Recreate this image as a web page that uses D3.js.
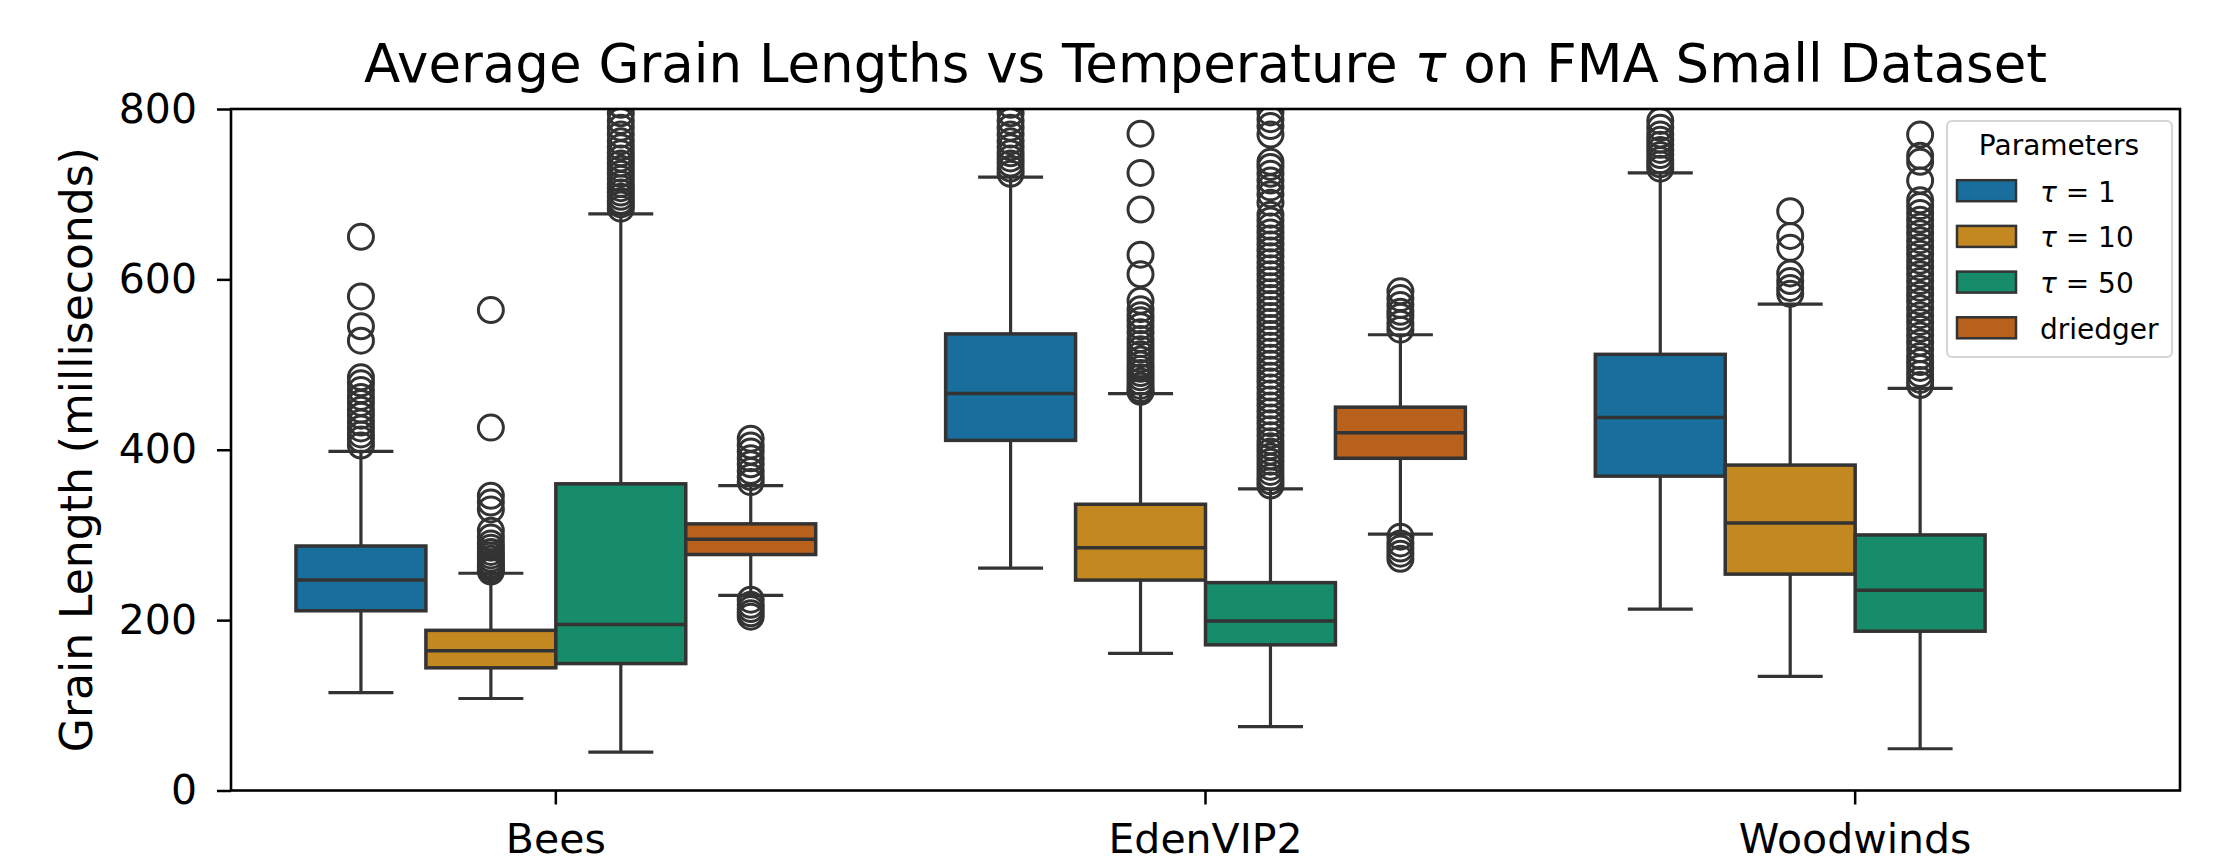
<!DOCTYPE html>
<html>
<head>
<meta charset="utf-8">
<script src="https://cdn.jsdelivr.net/npm/d3@7"></script>
<style>
  body { margin: 0; background: #fff; }
  text { font-family: "DejaVu Sans", sans-serif; }
</style>
</head>
<body>
<svg id="chart" width="2213" height="858"></svg>
<script>
// categories and hue levels
const categories = ["Bees", "EdenVIP2", "Woodwinds"];
const params = ["tau1", "tau10", "tau50", "driedger"];
const paramLabels = ["1", "10", "50", "driedger"];
const colors = ["#186e9d", "#c3881f", "#168c6a", "#b8611c"];
const yTicks = [0, 200, 400, 600, 800];

// box statistics, one row per parameter, one column per category (null = no data)
const lowWhisker  = [[115, 261, 213], [108, 161, 134], [45, 75, 49],   [229, 301, null]];
const q1Values    = [[211, 411, 369], [144, 247, 254], [149, 171, 187], [277, 390, null]];
const medianValues= [[247, 466, 438], [164, 285, 314], [195, 199, 235], [295, 420, null]];
const q3Values    = [[287, 536, 512], [188, 336, 382], [360, 244, 300], [313, 450, null]];
const highWhisker = [[398, 720, 725], [255, 466, 571], [677, 354, 472], [358, 535, null]];

// outliers
const outBeesTau1 = [650, 580, 545, 528, 485, 478, 470, 462, 455, 447, 440, 432, 425, 418, 412, 405];
const outBeesTau10 = [564, 426, 346, 338, 330, 305, 297, 290, 285, 280, 276, 272, 268, 265, 262, 259, 257];
const outBeesTau50 = [683, 688, 692, 697, 702, 707, 712, 718, 724, 730, 736, 742, 748, 755, 762, 770, 778, 786, 795, 805, 820];
const outBeesDriedger = [413, 405, 398, 390, 383, 375, 368, 362, 224, 218, 213, 208, 204];
const outEdenTau1 = [724, 730, 736, 742, 748, 755, 762, 770, 778, 786, 795, 805];
const outEdenTau10 = [771, 725, 682, 629, 606, 575, 565, 558, 552, 545, 538, 530, 524, 518, 512, 506, 500, 495, 490, 485, 480, 475, 471, 468];
const outEdenTau50 = [358, 363, 368, 374, 380, 386, 392, 398, 404, 410, 417, 424, 431, 438, 445, 452, 459, 466,
  473, 480, 487, 494, 501, 508, 515, 522, 529, 536, 543, 550, 557, 564, 571, 578, 585, 592, 599, 606, 613, 620,
  627, 634, 641, 648, 655, 662, 669, 676, 690, 700, 708, 716, 724, 732, 738, 770, 780, 788, 796];
const outEdenDriedger = [586, 578, 570, 562, 556, 548, 541, 298, 290, 284, 278, 272];
const outWoodTau1 = [730, 735, 740, 746, 752, 758, 764, 770, 778, 786];
const outWoodTau10 = [680, 651, 637, 607, 598, 590, 583];
const outWoodTau50 = [770, 745, 738, 716, 693, 686, 678, 670, 662, 654, 646, 638, 630, 622, 614, 606, 598, 590,
  582, 574, 566, 558, 550, 542, 534, 526, 518, 510, 503, 496, 489, 482, 476];
const outliers = [
  [outBeesTau1, outEdenTau1, outWoodTau1],
  [outBeesTau10, outEdenTau10, outWoodTau10],
  [outBeesTau50, outEdenTau50, outWoodTau50],
  [outBeesDriedger, outEdenDriedger, []]
];

const svg = d3.select("svg#chart");
const plot = { left: 231, right: 2180, top: 109, bottom: 790.5 };
const lineColor = "#333333";

const x = d3.scaleBand().domain(categories).range([plot.left, plot.right]);
const hue = d3.scaleBand().domain(params).range([0, x.bandwidth() * 0.8]);
const y = d3.scaleLinear().domain([0, 800]).range([plot.bottom, plot.top]);

svg.append("defs").append("clipPath").attr("id", "plotclip")
  .append("rect")
  .attr("x", plot.left).attr("y", plot.top)
  .attr("width", plot.right - plot.left).attr("height", plot.bottom - plot.top);

// build a flat table of boxes for drawing
let boxes = [];
params.forEach((p, pi) => {
  categories.forEach((c, ci) => {
    if (medianValues[pi][ci] == null) return;
    boxes.push({
      param: p, idx: pi, cat: c,
      lo: lowWhisker[pi][ci], q1: q1Values[pi][ci], med: medianValues[pi][ci],
      q3: q3Values[pi][ci], hi: highWhisker[pi][ci], out: outliers[pi][ci]
    });
  });
});

const boxLayer = svg.append("g").attr("clip-path", "url(#plotclip)");

boxes.forEach(b => {
  const x0 = x(b.cat) + x.bandwidth() * 0.1 + hue(b.param);
  const w = hue.bandwidth();
  const cx = x0 + w / 2;
  const g = boxLayer.append("g");

  // whiskers
  g.append("line").attr("x1", cx).attr("x2", cx).attr("y1", y(b.q3)).attr("y2", y(b.hi))
    .attr("stroke", lineColor).attr("stroke-width", 3.2);
  g.append("line").attr("x1", cx).attr("x2", cx).attr("y1", y(b.q1)).attr("y2", y(b.lo))
    .attr("stroke", lineColor).attr("stroke-width", 3.2);
  // caps
  [b.lo, b.hi].forEach(v => {
    g.append("line").attr("x1", cx - w / 4).attr("x2", cx + w / 4).attr("y1", y(v)).attr("y2", y(v))
      .attr("stroke", lineColor).attr("stroke-width", 3.2);
  });
  // box
  g.append("rect")
    .attr("x", x0).attr("y", y(b.q3))
    .attr("width", w).attr("height", y(b.q1) - y(b.q3))
    .attr("fill", colors[b.idx])
    .attr("stroke", lineColor).attr("stroke-width", 3.5);
  // median
  g.append("line").attr("x1", x0).attr("x2", x0 + w).attr("y1", y(b.med)).attr("y2", y(b.med))
    .attr("stroke", lineColor).attr("stroke-width", 3.5);
  // fliers
  g.selectAll("circle").data(b.out).join("circle")
    .attr("cx", cx).attr("cy", d => y(d)).attr("r", 12.5)
    .attr("fill", "none").attr("stroke", lineColor).attr("stroke-width", 3);
});

// axes
const yAxis = svg.append("g")
  .attr("transform", `translate(${plot.left},0)`)
  .call(d3.axisLeft(y).tickValues(yTicks).tickSize(14).tickPadding(20));
const xAxis = svg.append("g")
  .attr("transform", `translate(0,${plot.bottom})`)
  .call(d3.axisBottom(x).tickSize(14).tickPadding(19.5));
[yAxis, xAxis].forEach(a => {
  a.select(".domain").remove();
  a.selectAll("line").attr("stroke", "#000").attr("stroke-width", 2.5);
  a.selectAll("text").attr("fill", "#000").style("font-size", "41px")
    .style("font-family", "'DejaVu Sans', sans-serif");
});

// frame
svg.append("rect")
  .attr("x", plot.left).attr("y", plot.top)
  .attr("width", plot.right - plot.left).attr("height", plot.bottom - plot.top)
  .attr("fill", "none").attr("stroke", "#000").attr("stroke-width", 2.6);

// y label
svg.append("text")
  .attr("transform", `translate(92,${(plot.top + plot.bottom) / 2}) rotate(-90)`)
  .attr("text-anchor", "middle")
  .style("font-size", "44px")
  .text("Grain Length (milliseconds)");

// title
const title = svg.append("text")
  .attr("x", (plot.left + plot.right) / 2).attr("y", 82)
  .attr("text-anchor", "middle")
  .style("font-size", "53px");
title.append("tspan").text("Average Grain Lengths vs Temperature ");
title.append("tspan").style("font-style", "italic").text("τ");
title.append("tspan").text(" on FMA Small Dataset");

// legend
const legend = svg.append("g");
legend.append("rect")
  .attr("x", 1947).attr("y", 121).attr("width", 225).attr("height", 236)
  .attr("rx", 5).attr("fill", "#fff").attr("fill-opacity", 0.8)
  .attr("stroke", "#d6d6d6").attr("stroke-width", 2.2);
legend.append("text")
  .attr("x", 2059).attr("y", 155).attr("text-anchor", "middle")
  .style("font-size", "28px").text("Parameters");
params.forEach((p, i) => {
  const cy = 190.7 + i * 45.7;
  legend.append("rect")
    .attr("x", 1957).attr("y", cy - 10.5).attr("width", 59).attr("height", 21)
    .attr("fill", colors[i]).attr("stroke", lineColor).attr("stroke-width", 2.5);
  const t = legend.append("text").attr("x", 2040).attr("y", cy + 11).style("font-size", "28px");
  if (p === "driedger") {
    t.text(paramLabels[i]);
  } else {
    t.append("tspan").style("font-style", "italic").text("τ");
    t.append("tspan").text(" = " + paramLabels[i]);
  }
});
</script>
</body>
</html>
